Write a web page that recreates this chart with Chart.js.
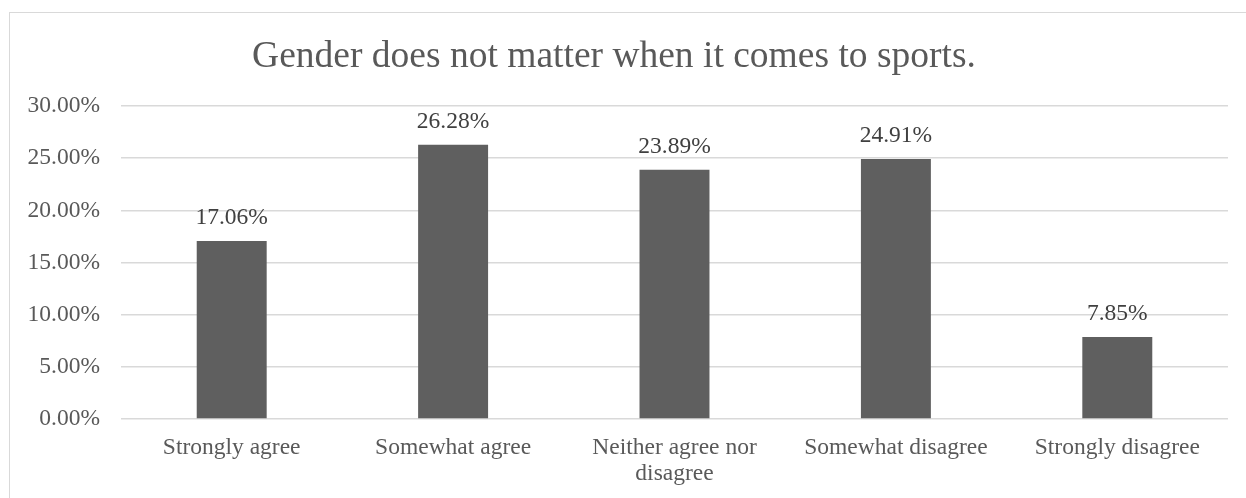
<!DOCTYPE html>
<html>
<head>
<meta charset="utf-8">
<script src="https://cdn.jsdelivr.net/npm/chart.js@4/dist/chart.umd.min.js"></script>
<style>
    html, body { margin: 0; padding: 0; background: #fff; }
    #frame {
        position: absolute; left: 9px; top: 12px; width: 1300px; height: 600px;
        border: 1px solid #d9d9d9; box-sizing: border-box;
    }
    #wrap { position: absolute; left: 0; top: 0; width: 1246px; height: 498px; }
</style>
</head>
<body>
<div id="frame"></div>
<div id="wrap"><canvas id="chart"></canvas></div>
<script>
const categories = [
    'Strongly agree',
    'Somewhat agree',
    ['Neither agree nor', 'disagree'],
    'Somewhat disagree',
    'Strongly disagree',
];
const shares = [17.06, 26.28, 23.89, 24.91, 7.85];
const yTicks = [0, 5, 10, 15, 20, 25, 30];

const serif = '"Liberation Serif", "Times New Roman", serif';

// value labels above each bar
const barLabels = {
    id: 'barLabels',
    afterDatasetsDraw(chart) {
        const { ctx } = chart;
        const meta = chart.getDatasetMeta(0);
        ctx.save();
        ctx.font = '23.5px ' + serif;
        ctx.fillStyle = '#404040';
        ctx.textAlign = 'center';
        ctx.textBaseline = 'alphabetic';
        meta.data.forEach((bar, i) => {
            ctx.fillText(shares[i].toFixed(2) + '%', bar.x, bar.y - 17);
        });
        ctx.restore();
    },
};

new Chart(document.getElementById('chart'), {
    type: 'bar',
    data: {
        labels: categories,
        datasets: [{
            data: shares,
            backgroundColor: '#5f5f5f',
            borderWidth: 0,
            categoryPercentage: 1,
            barPercentage: 0.316,
        }],
    },
    options: {
        responsive: true,
        maintainAspectRatio: false,
        animation: false,
        layout: { padding: { left: 0, right: 18, top: 0, bottom: 0 } },
        plugins: {
            legend: { display: false },
            tooltip: { enabled: false },
            title: {
                display: true,
                text: 'Gender does not matter when it comes to sports.',
                color: '#595959',
                font: { family: serif, size: 37.5, weight: 'normal', lineHeight: 1.2 },
                padding: { top: 35, bottom: 26 },
            },
        },
        scales: {
            x: {
                grid: { display: false },
                border: { display: false },
                ticks: {
                    color: '#595959',
                    font: { family: serif, size: 23.5, lineHeight: 1.1 },
                    padding: 8,
                    maxRotation: 0,
                    autoSkip: false,
                },
                afterFit: (scale) => { scale.height = 79; },
            },
            y: {
                min: 0,
                max: 30,
                afterBuildTicks: (scale) => { scale.ticks = yTicks.map(v => ({ value: v })); },
                grid: { color: '#d9d9d9', lineWidth: 1.5, drawTicks: false },
                border: { display: false },
                ticks: {
                    color: '#595959',
                    font: { family: serif, size: 23.5 },
                    padding: 21,
                    callback: (v) => v.toFixed(2) + '%',
                },
                afterFit: (scale) => { scale.width = 121; },
            },
        },
    },
    plugins: [barLabels],
});
</script>
</body>
</html>
